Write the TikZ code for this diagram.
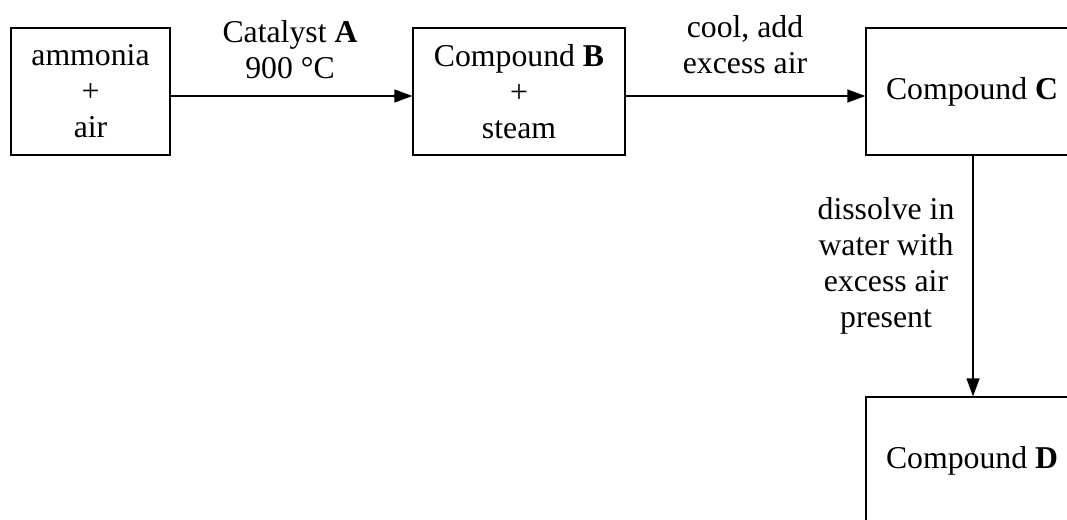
\documentclass[tikz,border=0pt]{standalone}
\usepackage{fontspec}
\setmainfont{Liberation Serif}
\usetikzlibrary{arrows.meta}
\tikzset{
  box/.style={draw, line width=1.3pt, minimum height=127pt, inner sep=0pt, align=center},
  lbl/.style={align=center, inner sep=0pt},
  conn/.style={line width=1.3pt, -{Triangle[length=18pt,width=13pt]}}
}
\begin{document}
\begin{tikzpicture}[x=1pt,y=-1pt, font=\fontsize{31.75}{36}\selectfont]
\useasboundingbox (0,0) rectangle (1067,519);
\clip (0,0) rectangle (1067,519);
\node[box, minimum width=159pt] (A) at (90.5,91.5) {ammonia\\+\\air};
\node[box, minimum width=212pt] (B) at (519,91.5) {Compound \textbf{B}\\+\\steam};
\node[box, minimum width=212pt] (C) at (972,91.5) {Compound \textbf{C}};
\node[box, minimum width=212pt] (D) at (972,460.5) {Compound \textbf{D}};
\draw[conn] ([yshift=-4.5pt]A.east) -- ([yshift=-4.5pt]B.west);
\draw[conn] ([yshift=-4.5pt]B.east) -- ([yshift=-4.5pt]C.west);
\draw[conn] ([xshift=1pt]C.south) -- ([xshift=1pt]D.north);
\node[lbl] (la) at (290,50) {Catalyst \textbf{A}\\900 °C};
\node[lbl] (lb) at (745,45) {cool, add\\excess air};
\node[lbl] (lc) at (886,266) {dissolve in\\water with\\excess air\\present};
\end{tikzpicture}
\end{document}
